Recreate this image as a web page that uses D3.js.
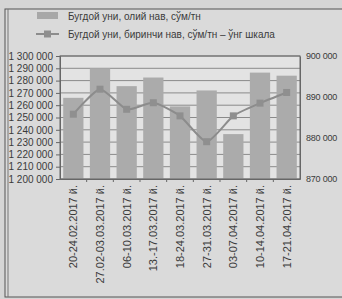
<!DOCTYPE html>
<html>
<head>
<meta charset="UTF-8">
<style>
  body { margin: 0; background: #d5d5d5; }
  svg { display: block; font-family: 'Liberation Sans', Arial, sans-serif; }
  .tick text { fill: #3a3a3a; }
</style>
</head>
<body>
<svg id="chart" width="342" height="299"></svg>
<script src="https://cdn.jsdelivr.net/npm/d3@7"></script>
<script>
// data
const weeks = ["20-24.02.2017 й.", "27.02-03.03.2017 й.", "06-10.03.2017 й.", "13.-17.03.2017 й.",
  "18-24.03.2017 й.", "27-31.03.2017 й.", "03-07.04.2017 й.", "10-14.04.2017 й.", "17-21.04.2017 й."];
const premium = [1266000, 1290000, 1275500, 1282500, 1259000, 1272000, 1236500, 1286500, 1284000];
const firstGrade = [885800, 891900, 887000, 888600, 885400, 879100, 885400, 888500, 891100];
const leftTicks = d3.range(1200000, 1300001, 10000);
const rightTicks = [870000, 880000, 890000, 900000];
const seriesNames = ["Бугдой уни, олий нав, сўм/тн", "Бугдой уни, биринчи нав, сўм/тн – ўнг шкала"];

const svg = d3.select("#chart");
const fmt = d => d3.format(",")(d).replace(/,/g, " ");

const plot = { left: 60, right: 300, top: 56, bottom: 179 };

// outer frame of the clipping
svg.append("rect").attr("x", 5).attr("y", 9).attr("width", 345).attr("height", 288)
  .attr("fill", "#dadada").attr("stroke", "#555").attr("stroke-width", 1);
svg.append("line").attr("x1", 8).attr("x2", 8).attr("y1", 9).attr("y2", 297)
  .attr("stroke", "#777").attr("stroke-width", 1);

const x = d3.scaleBand().domain(weeks).range([plot.left, plot.right]).paddingInner(0.24).paddingOuter(0.12);
const yL = d3.scaleLinear().domain([1200000, 1300000]).range([plot.bottom, plot.top]);
const yR = d3.scaleLinear().domain([870000, 900000]).range([plot.bottom, plot.top]);

svg.append("rect").attr("x", plot.left).attr("y", plot.top)
  .attr("width", plot.right - plot.left).attr("height", plot.bottom - plot.top)
  .attr("fill", "#e3e3e3");

// gridlines
svg.append("g").selectAll("line").data(leftTicks).join("line")
  .attr("x1", plot.left).attr("x2", plot.right)
  .attr("y1", d => yL(d)).attr("y2", d => yL(d))
  .attr("stroke", "#8a8a8a").attr("stroke-width", 1);

// bars
svg.append("g").selectAll("rect").data(premium).join("rect")
  .attr("x", (d, i) => x(weeks[i]))
  .attr("width", x.bandwidth())
  .attr("y", d => yL(d))
  .attr("height", d => plot.bottom - yL(d))
  .attr("fill", "#ababab");

// frame
svg.append("rect").attr("x", plot.left).attr("y", plot.top)
  .attr("width", plot.right - plot.left).attr("height", plot.bottom - plot.top)
  .attr("fill", "none").attr("stroke", "#666");

// line series
const line = d3.line()
  .x((d, i) => x(weeks[i]) + x.bandwidth() / 2)
  .y(d => yR(d))
  .curve(d3.curveCardinal.tension(0.4));
svg.append("path").datum(firstGrade)
  .attr("d", line).attr("fill", "none")
  .attr("stroke", "#8c8c8c").attr("stroke-width", 2);
svg.append("g").selectAll("rect").data(firstGrade).join("rect")
  .attr("x", (d, i) => x(weeks[i]) + x.bandwidth() / 2 - 3.5)
  .attr("y", d => yR(d) - 3.5)
  .attr("width", 7).attr("height", 7)
  .attr("fill", "#8f8f8f");

// axes
const axL = svg.append("g").attr("transform", `translate(${plot.left},0)`)
  .call(d3.axisLeft(yL).tickValues(leftTicks).tickFormat(fmt).tickSize(4).tickPadding(3));
axL.selectAll("text").attr("font-size", 10);

const axR = svg.append("g").attr("transform", `translate(${plot.right},0)`)
  .call(d3.axisRight(yR).tickValues(rightTicks).tickFormat(fmt).tickSize(0).tickPadding(6));
axR.selectAll("text").attr("font-size", 9).attr("letter-spacing", -0.2);

const axB = svg.append("g").attr("transform", `translate(0,${plot.bottom})`)
  .call(d3.axisBottom(x).tickSize(0).tickPadding(0));
axB.selectAll("text")
  .attr("font-size", 11)
  .attr("transform", "rotate(-90)")
  .attr("text-anchor", "end")
  .attr("dy", "0.35em")
  .attr("x", -6).attr("y", 0);
// small tick marks between categories
svg.append("g").selectAll("line").data(weeks.slice(1)).join("line")
  .attr("x1", d => x(d) - x.step() * x.paddingInner() / 2)
  .attr("x2", d => x(d) - x.step() * x.paddingInner() / 2)
  .attr("y1", plot.bottom).attr("y2", plot.bottom + 3)
  .attr("stroke", "#666");

[axL, axR, axB].forEach(a => a.select(".domain").attr("stroke", "#666"));
axL.selectAll(".tick line").attr("stroke", "#666");

// legend
const leg = svg.append("g");
leg.append("rect").attr("x", 37).attr("y", 12).attr("width", 21).attr("height", 7).attr("fill", "#a8a8a8");
leg.append("line").attr("x1", 36).attr("x2", 59).attr("y1", 34).attr("y2", 34)
  .attr("stroke", "#8c8c8c").attr("stroke-width", 2);
leg.append("rect").attr("x", 44).attr("y", 30.5).attr("width", 7).attr("height", 7).attr("fill", "#8f8f8f");
leg.selectAll("text").data(seriesNames).join("text")
  .attr("x", 68).attr("y", (d, i) => 16 + i * 18)
  .attr("dy", "0.35em").attr("font-size", 10).attr("fill", "#3a3a3a")
  .text(d => d);
</script>
</body>
</html>
